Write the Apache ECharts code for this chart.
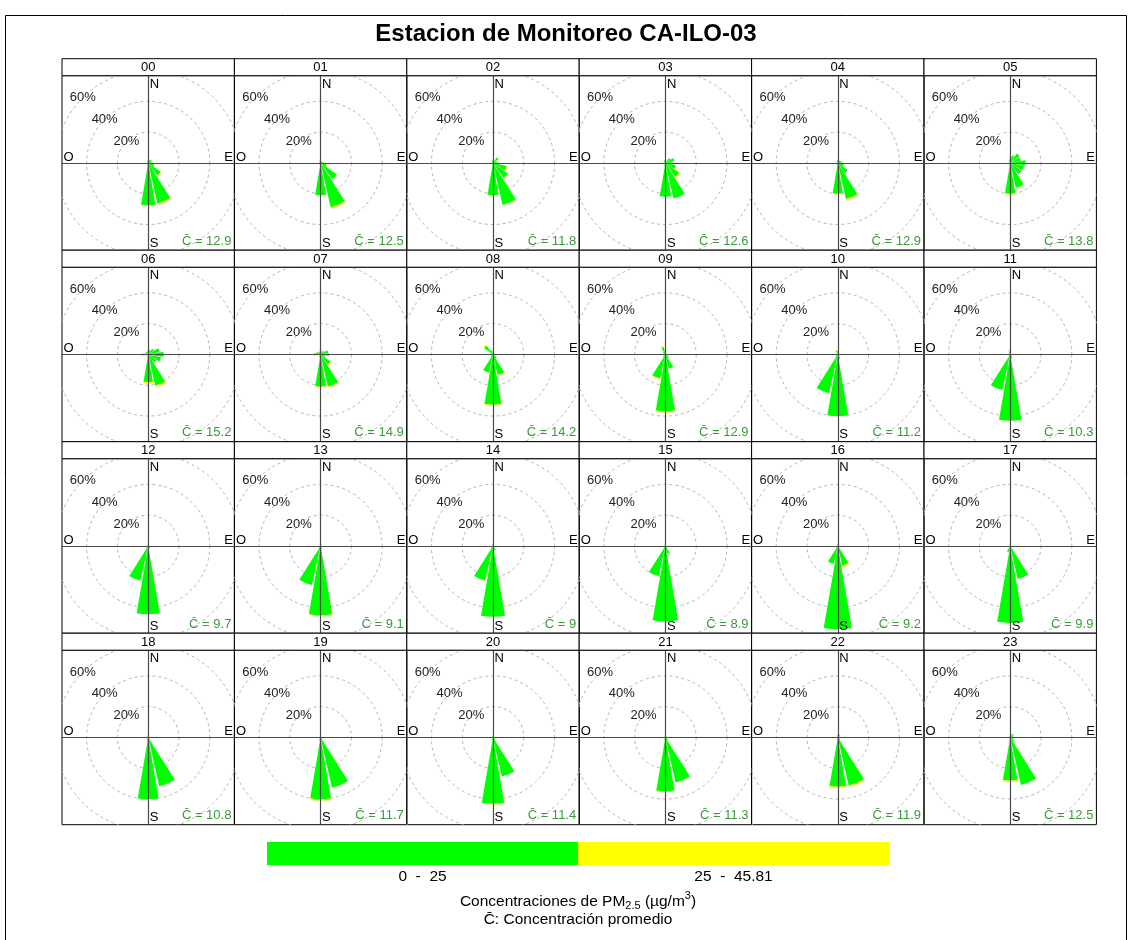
<!DOCTYPE html>
<html>
<head>
<meta charset="utf-8">
<script src="https://cdn.jsdelivr.net/npm/echarts@6/dist/echarts.min.js"></script>
<style>
  html, body { margin: 0; padding: 0; background: #ffffff; }
  #chart { width: 1132px; height: 940px; }
</style>
</head>
<body>
<div id="chart"></div>
<script>
// ---- data -------------------------------------------------------------
const stationName = 'Estacion de Monitoreo CA-ILO-03';
const hours = ['00','01','02','03','04','05','06','07','08','09','10','11',
               '12','13','14','15','16','17','18','19','20','21','22','23'];
// 16 wind sectors, clockwise from north
const directions = ['N','NNE','NE','ENE','E','ESE','SE','SSE','S','SSW','SW','WSW','W','WNW','NW','NNW'];
const compassLabels = { north: 'N', south: 'S', east: 'E', west: 'O' };
// mean PM2.5 concentration for each hour
const meanConc = [12.9, 12.5, 11.8, 12.6, 12.9, 13.8, 15.2, 14.9, 14.2, 12.9, 11.2, 10.3,
                  9.7, 9.1, 9, 8.9, 9.2, 9.9, 10.8, 11.7, 11.4, 11.3, 11.9, 12.5];
// concentration classes
const concBreaks = [0, 25, 45.81];
const classLabels = ['0  -  25', '25  -  45.81'];
const classColors = ['#00ff00', '#ffff00'];
// radial rings (% of time)
const ringLevels = [20, 40, 60, 80];
const ringLabels = ['20%', '40%', '60%'];

// % of time per sector with PM2.5 in the 0-25 class (N ... NNW)
const pctLow = [
  [2, 2, 2.5, 2, 2, 4, 10, 27, 27.5, 1.5, 1, 0.5, 1, 0.5, 1, 1.5],        // 00
  [1.5, 1, 1.5, 1.5, 2, 4, 13, 29.5, 21, 1, 0.5, 0.5, 1, 0.5, 1, 1.5],    // 01
  [2, 1.5, 4.5, 2.5, 3, 9, 12, 28, 21, 1.5, 0.5, 0.5, 1, 0.5, 1, 1.5],    // 02
  [2, 1, 4, 6, 4, 7, 11, 23.6, 22, 1.5, 0.5, 0.5, 1.5, 0.5, 1, 2],        // 03
  [2, 1, 2, 2.5, 3, 4, 8, 24, 20, 1.5, 0.5, 0.5, 1, 0.5, 1, 1.5],         // 04
  [3, 5, 7.5, 7, 10, 9, 9, 16.5, 20, 1.5, 0.5, 0.5, 1, 0.5, 1, 2],        // 05
  [2.5, 3, 4.5, 7.5, 10, 8.5, 6.5, 20.7, 18, 1.5, 0.5, 1, 4, 2, 2, 2],    // 06
  [3, 2, 3, 5, 5.5, 3, 8, 21.4, 21, 2, 1, 1, 4.4, 3, 2, 2],               // 07
  [1.5, 0.5, 1, 1, 2, 1, 3, 13.7, 32.6, 12, 2, 0.5, 2, 1, 7, 3],          // 08
  [3, 0.5, 0.5, 0.5, 1, 1.5, 3, 9.5, 37, 16, 2, 0.5, 0.5, 0.5, 2, 5],     // 09
  [2, 0.5, 0.5, 0.5, 0.5, 0.5, 1, 3, 40, 25.8, 2, 0.5, 0.5, 0.5, 1, 2.5], // 10
  [3, 0.5, 0.5, 0.5, 0.5, 0.5, 1, 2.5, 43, 23.6, 1.5, 0.5, 0.5, 0.5, 1, 2], // 11
  [2, 1, 0.5, 0.5, 0.5, 0.5, 1, 2, 44.4, 23, 1.5, 0.5, 0.5, 0.5, 0.5, 1], // 12
  [2, 1, 0.5, 0.5, 0.5, 0.5, 1, 2, 45, 26, 1.5, 0.5, 0.5, 0.5, 0.5, 1],   // 13
  [1.5, 0.5, 0.5, 0.5, 0.5, 0.5, 1, 3, 46, 23, 1.5, 0.5, 0.5, 0.5, 0.5, 1], // 14
  [1.5, 0.5, 0.5, 0.5, 0.5, 0.5, 1, 5, 49, 20, 1.5, 0.5, 0.5, 0.5, 0.5, 1], // 15
  [1.5, 0.5, 0.5, 0.5, 0.5, 0.5, 1, 13, 54, 12, 1, 0.5, 0.5, 0.5, 0.5, 1], // 16
  [1.5, 0.5, 0.5, 0.5, 0.5, 0.5, 1, 22, 50, 4, 1, 0.5, 0.5, 0.5, 0.5, 1],  // 17
  [2, 1, 0.5, 0.5, 0.5, 0.5, 1.5, 32.5, 40, 2, 0.5, 0.5, 0.5, 0.5, 0.5, 1], // 18
  [1.5, 0.5, 0.5, 0.5, 0.5, 0.5, 1.5, 33.5, 40, 2, 0.5, 0.5, 0.5, 0.5, 0.5, 1], // 19
  [1.5, 0.5, 0.5, 0.5, 0.5, 0.5, 1.5, 26, 43, 2, 0.5, 0.5, 0.5, 0.5, 0.5, 1], // 20
  [2, 1, 1, 0.5, 0.5, 0.5, 2, 30, 35, 1.5, 0.5, 0.5, 0.5, 0.5, 0.5, 1],    // 21
  [2, 2, 2, 1, 1, 1, 2, 32, 32, 1.5, 0.5, 0.5, 0.5, 0.5, 0.5, 1],          // 22
  [2, 2, 3, 2, 2, 2, 3, 31.6, 28, 1.5, 0.5, 0.5, 0.5, 0.5, 0.5, 1]         // 23
];
// % of time per sector with PM2.5 in the 25-45.81 class (N ... NNW)
const pctHigh = [
  [0, 0, 0, 0, 0, 0, 0.3, 0.7, 0.6, 0, 0, 0, 0, 0, 0, 0],   // 00
  [0, 0, 0, 0, 0, 0.5, 0.3, 0.8, 0.2, 0, 0, 0, 0, 0, 0, 0], // 01
  [0.4, 0, 0, 0, 0, 0.7, 0.4, 0.3, 0, 0, 0, 0, 0, 0, 0, 0], // 02
  [0, 0, 0, 0, 0, 0.4, 0.8, 0, 0, 0, 0, 0, 0, 0, 0, 0],     // 03
  [0.5, 0, 0, 0, 0, 0, 0, 0.8, 0.5, 0, 0, 0, 0, 0, 0, 0],   // 04
  [0, 0, 0, 0, 0.3, 0, 0, 0.5, 0.7, 0, 0, 0, 0, 0, 0, 0],   // 05
  [0, 0, 0, 0, 0, 0, 0, 1, 1, 0, 0, 0, 0.6, 0, 0, 0],       // 06
  [0, 0, 0, 0, 0, 0, 0.5, 0.5, 0.5, 0, 0, 0, 0, 0.3, 0, 0], // 07
  [0, 0, 0, 0, 0, 0, 0, 0.3, 0.7, 0, 0, 0, 0, 0, 1, 0],     // 08
  [0.5, 0, 0, 0, 0, 0, 0, 0, 0.7, 0.5, 0, 0, 0, 0, 0, 1],   // 09
  [0.8, 0, 0, 0, 0, 0, 0, 0, 0, 0, 0, 0, 0, 0, 0, 0.5],     // 10
  [0.5, 0, 0, 0, 0, 0, 0, 0, 0, 0, 0, 0, 0, 0, 0, 0.5],     // 11
  [0, 0, 0, 0, 0, 0, 0, 0, 0, 0, 0, 0, 0, 0, 0, 0],         // 12
  [0, 0, 0, 0, 0, 0, 0, 0, 0.7, 0, 0, 0, 0, 0, 0, 0],       // 13
  [0, 0, 0, 0, 0, 0, 0, 0, 0, 0, 0, 0, 0, 0, 0, 0],         // 14
  [0, 0, 0, 0, 0, 0, 0, 0, 0, 0, 0, 0, 0, 0, 0, 0],         // 15
  [0, 0, 0, 0, 0, 0, 0, 1, 0, 0, 0, 0, 0, 0, 0, 0],         // 16
  [0, 0, 0, 0, 0, 0, 0, 0, 0, 0, 0, 0, 0, 0, 0, 0],         // 17
  [0.5, 0, 0, 0, 0, 0, 0, 0, 0, 0, 0, 0, 0, 0, 0, 0],       // 18
  [0, 0, 0, 0, 0, 0, 0, 0, 1, 0, 0, 0, 0, 0, 0, 0],         // 19
  [0, 0, 0, 0, 0, 0, 0, 0, 0.5, 0, 0, 0, 0, 0, 0, 0],       // 20
  [0, 0, 0, 0, 0, 0, 0, 0, 0.5, 0, 0, 0, 0, 0, 0, 0],       // 21
  [0, 0, 0, 0, 0, 0, 0, 0.8, 1, 0, 0, 0, 0, 0, 0, 0],       // 22
  [0, 0, 0, 0, 0, 0, 0, 0, 1, 0, 0, 0, 0, 0, 0, 0]          // 23
];

// ---- layout -----------------------------------------------------------
const FONT = '"Liberation Sans", Arial, Helvetica, sans-serif';
const COLS = 6;
const LAYOUT = { left: 62, top: 58.7, cellW: 172.4, cellH: 191.5, stripH: 17 };
const PX_PER_PCT = 1.54;          // radial scale: pixels per 1 % of time
const SECTOR_DEG = 360 / directions.length;
const WEDGE_DEG = 19.5;           // drawn wedge width (leaves a thin gap)
const AXIS_COLOR = '#4a4a4a';
const RING_COLOR = '#b4b4b4';
const MEAN_COLOR = '#3c9a3c';

const grids = [], xAxes = [], yAxes = [], series = [], graphics = [];

hours.forEach((hour, i) => {
  const row = Math.floor(i / COLS), col = i % COLS;
  const x0 = LAYOUT.left + col * LAYOUT.cellW;
  const yStrip = LAYOUT.top + row * LAYOUT.cellH;
  const y0 = yStrip + LAYOUT.stripH;
  const w = LAYOUT.cellW, h = LAYOUT.cellH - LAYOUT.stripH;
  const xr = w / 2 / PX_PER_PCT, yr = h / 2 / PX_PER_PCT;

  grids.push({ left: x0, top: y0, width: w, height: h, show: true,
               borderColor: '#000', borderWidth: 1, backgroundColor: 'transparent' });
  const axisBase = {
    gridIndex: i, type: 'value', z: 5,
    axisLine: { show: true, onZero: true, lineStyle: { color: AXIS_COLOR, width: 1.2 } },
    axisTick: { show: false }, axisLabel: { show: false }, splitLine: { show: false }
  };
  xAxes.push(Object.assign({ min: -xr, max: xr }, axisBase));
  yAxes.push(Object.assign({ min: -yr, max: yr }, axisBase));

  // dashed rings with their % labels on the north-west diagonal
  series.push({
    type: 'custom', xAxisIndex: i, yAxisIndex: i, clip: true, z: 1, silent: true,
    data: ringLevels.map((v, k) => [v, k]),
    renderItem(params, api) {
      const c = api.coord([0, 0]);
      const r = api.size([api.value(0), 0])[0];
      const k = api.value(1);
      const children = [{
        type: 'circle', shape: { cx: c[0], cy: c[1], r: r },
        style: { fill: null, stroke: RING_COLOR, lineWidth: 1, lineDash: [3, 3] }
      }];
      if (k < ringLabels.length) {
        children.push({
          type: 'text',
          style: { text: ringLabels[k], x: c[0] - r * Math.SQRT1_2, y: c[1] - r * Math.SQRT1_2,
                   align: 'center', verticalAlign: 'middle', fill: '#222', font: '13px ' + FONT }
        });
      }
      return { type: 'group', children: children };
    }
  });

  // stacked wedges: [sector index, inner %, outer %, class index]
  const wedges = [];
  directions.forEach((d, k) => {
    const lo = pctLow[i][k], hi = pctHigh[i][k];
    if (lo > 0) wedges.push([k, 0, lo, 0]);
    if (hi > 0) wedges.push([k, lo, lo + hi, 1]);
  });
  series.push({
    type: 'custom', xAxisIndex: i, yAxisIndex: i, clip: true, z: 2, silent: true,
    data: wedges,
    renderItem(params, api) {
      const c = api.coord([0, 0]);
      const r0 = api.size([api.value(1), 0])[0];
      const r1 = api.size([api.value(2), 0])[0];
      const mid = api.value(0) * SECTOR_DEG - 90;
      const a0 = (mid - WEDGE_DEG / 2) * Math.PI / 180;
      const a1 = (mid + WEDGE_DEG / 2) * Math.PI / 180;
      return {
        type: 'sector',
        shape: { cx: c[0], cy: c[1], r0: r0, r: r1, startAngle: a0, endAngle: a1, clockwise: true },
        style: { fill: classColors[api.value(3)], stroke: null }
      };
    }
  });

  // panel strip with the hour
  graphics.push({
    type: 'rect', z: 10,
    shape: { x: x0, y: yStrip, width: w, height: LAYOUT.stripH },
    style: { fill: '#fff', stroke: '#000', lineWidth: 1 }
  });
  graphics.push({
    type: 'text', z: 11,
    style: { text: hour, x: x0 + w / 2, y: yStrip + LAYOUT.stripH / 2 + 0.5,
             align: 'center', verticalAlign: 'middle', fill: '#000', font: '13px ' + FONT }
  });

  // compass letters and mean concentration
  const cx = x0 + w / 2, cy = y0 + h / 2;
  const letter = (text, x, y, align, vAlign) => graphics.push({
    type: 'text', z: 11,
    style: { text, x, y, align, verticalAlign: vAlign, fill: '#000', font: '13px ' + FONT }
  });
  letter(compassLabels.north, cx + 1.5, y0 + 2, 'left', 'top');
  letter(compassLabels.south, cx + 1.5, y0 + h - 0.5, 'left', 'bottom');
  letter(compassLabels.west, x0 + 1.5, cy + 0.5, 'left', 'bottom');
  letter(compassLabels.east, x0 + w - 1.5, cy + 0.5, 'right', 'bottom');
  graphics.push({
    type: 'text', z: 11,
    style: { text: 'C\u0304 = ' + meanConc[i], x: x0 + w - 3, y: y0 + h - 9,
             align: 'right', verticalAlign: 'middle', fill: MEAN_COLOR, font: '13px ' + FONT }
  });
});

// outer frame and title
graphics.push({
  type: 'rect', z: 0,
  shape: { x: 5.5, y: 15.5, width: 1121, height: 940 },
  style: { fill: null, stroke: '#000', lineWidth: 1 }
});
graphics.push({
  type: 'text', z: 11,
  style: { text: stationName, x: 566, y: 34, align: 'center', verticalAlign: 'middle',
           fill: '#000', font: 'bold 24px ' + FONT }
});

// colour key
const KEY = { x: 267, y: 842, width: 622, height: 23 };
const nClass = concBreaks.length - 1;
for (let k = 0; k < nClass; k++) {
  const bw = KEY.width / nClass;
  graphics.push({
    type: 'rect', z: 10,
    shape: { x: KEY.x + k * bw, y: KEY.y, width: bw, height: KEY.height },
    style: { fill: classColors[k], stroke: null }
  });
  graphics.push({
    type: 'text', z: 11,
    style: { text: classLabels[k], x: KEY.x + (k + 0.5) * bw, y: KEY.y + KEY.height + 12,
             align: 'center', verticalAlign: 'middle', fill: '#000', font: '15.5px ' + FONT }
  });
}

// key caption with sub/superscripts laid out piece by piece
const measureCtx = document.createElement('canvas').getContext('2d');
function textWidth(str, size) { measureCtx.font = size + 'px ' + FONT; return measureCtx.measureText(str).width; }
const captionParts = [
  { t: 'Concentraciones de PM', s: 15.5, dy: 0 },
  { t: '2.5', s: 11, dy: 4 },
  { t: ' (\u00b5g/m', s: 15.5, dy: 0 },
  { t: '3', s: 11, dy: -6 },
  { t: ')', s: 15.5, dy: 0 }
];
const captionY = 902;
let capW = captionParts.reduce((a, p) => a + textWidth(p.t, p.s), 0);
let cxPos = 578 - capW / 2;
captionParts.forEach(p => {
  graphics.push({
    type: 'text', z: 11,
    style: { text: p.t, x: cxPos, y: captionY + p.dy, align: 'left', verticalAlign: 'middle',
             fill: '#000', font: p.s + 'px ' + FONT }
  });
  cxPos += textWidth(p.t, p.s);
});
graphics.push({
  type: 'text', z: 11,
  style: { text: 'C\u0304: Concentraci\u00f3n promedio', x: 578, y: 920, align: 'center',
           verticalAlign: 'middle', fill: '#000', font: '15.5px ' + FONT }
});

const chart = echarts.init(document.getElementById('chart'), null, { renderer: 'canvas' });
chart.setOption({
  animation: false,
  backgroundColor: '#ffffff',
  grid: grids, xAxis: xAxes, yAxis: yAxes,
  series: series,
  graphic: { elements: graphics }
});
</script>
</body>
</html>
